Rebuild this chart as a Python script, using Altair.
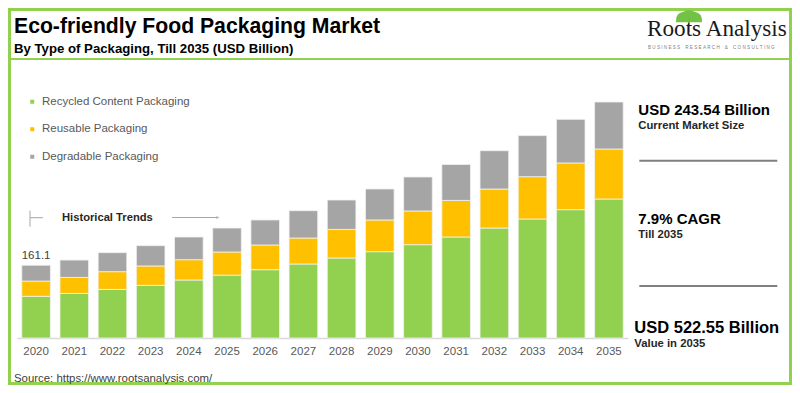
import altair as alt
import pandas as pd

years = [str(y) for y in range(2020, 2036)]
categories = ["Recycled Content Packaging", "Reusable Packaging", "Degradable Packaging"]
colors = ["#92d050", "#ffc000", "#a5a5a5"]
recycled = [92.3, 98.7, 107.6, 116.5, 128.4, 139.2, 151.2, 163.8, 177.1, 191.1, 206.6, 223.6, 243.5, 263.5, 284.1, 307.7]
reusable = [33.7, 35.4, 39.2, 43.0, 44.9, 51.2, 54.7, 57.6, 63.3, 70.2, 74.6, 81.0, 86.3, 93.7, 103.4, 110.7]
degradable = [35.1, 38.5, 42.1, 44.9, 50.3, 53.1, 55.4, 60.4, 65.1, 68.6, 75.3, 79.7, 84.8, 90.8, 96.5, 104.1]
first_label = "161.1"

rows = []
for i, y in enumerate(years):
    for k, (cat, vals) in enumerate(zip(categories, [recycled, reusable, degradable])):
        rows.append({"year": y, "type": cat, "value": vals[i], "order": k})
df = pd.DataFrame(rows)

FONT = "Liberation Sans"
W, H = 611, 248
Y_MAX = 549

xscale = alt.Scale(domain=years, paddingInner=0.25, paddingOuter=0.125)
yscale = alt.Scale(domain=[0, Y_MAX], nice=False, zero=True)

bars = alt.Chart(df).mark_bar(stroke="#f2f2f2", strokeWidth=0.8).encode(
    x=alt.X("year:N", scale=xscale, sort=years,
            axis=alt.Axis(title=None, ticks=False, labelAngle=0, labelFontSize=11.5,
                          labelColor="#595959", labelFont=FONT, labelPadding=7,
                          domainColor="#d9d9d9", domainWidth=1.5, grid=False)),
    y=alt.Y("sum(value):Q", scale=yscale, axis=None, stack="zero"),
    color=alt.Color("type:N", scale=alt.Scale(domain=categories, range=colors),
                    legend=alt.Legend(title=None, orient="none", legendX=9.5, legendY=6,
                                      symbolType="square", symbolSize=16, symbolStrokeWidth=0,
                                      labelFontSize=11.5, labelColor="#595959", labelFont=FONT,
                                      labelOffset=4, rowPadding=14.5, padding=0, labelLimit=300)),
    order=alt.Order("order:Q", sort="ascending"),
)

first_df = pd.DataFrame({"year": [years[0]], "total": [161.1], "label": [first_label]})
first_text = alt.Chart(first_df).mark_text(fontSize=11.5, font=FONT, color="#404040",
                                           baseline="middle", dy=-9).encode(
    x=alt.X("year:N", scale=xscale, sort=years),
    y=alt.Y("total:Q", scale=yscale),
    text="label:N",
)

def txt(text, x, y, size, bold=False, color="#000000", font=FONT, baseline="middle", align="left"):
    kw = dict(text=text, fontSize=size, font=font, color=color, baseline=baseline, align=align,
              fontWeight="bold" if bold else "normal")
    return alt.Chart(pd.DataFrame({"a": [0]})).mark_text(**kw).encode(x=alt.value(x), y=alt.value(y))

def rule(x1, x2, y1, y2, color, width):
    return alt.Chart(pd.DataFrame({"a": [0]})).mark_rule(color=color, strokeWidth=width).encode(
        x=alt.value(x1), x2=alt.value(x2), y=alt.value(y1), y2=alt.value(y2))

GREEN = "#92d050"
NB = "\u00a0"
tagline = (NB * 4).join(NB.join(w) for w in "BUSINESS RESEARCH & CONSULTING".split(" "))
layers = [
    bars,
    first_text,
    # frame
    alt.Chart(pd.DataFrame({"a": [0]})).mark_rect(fill=None, stroke=GREEN, strokeWidth=3).encode(
        x=alt.value(-7.5), x2=alt.value(773.5), y=alt.value(-80.5), y2=alt.value(293.5)),
    rule(-9, 775, -31, -31, GREEN, 2),
    txt("Eco-friendly Food Packaging Market", -3, -57.3, 21.2, bold=True, baseline="alphabetic"),
    txt("By Type of Packaging, Till 2035 (USD Billion)", -3, -37.5, 13.2, bold=True, baseline="alphabetic"),
    # logo
    rule(672, 672, -72, -58, "#9aa88a", 1.5),
    alt.Chart(pd.DataFrame({"a": [0]})).mark_point(
        shape="M -1 0.4 Q -1.05 -0.3 -0.45 -0.4 Q 0 -0.65 0.45 -0.4 Q 1.05 -0.3 1 0.4 Z",
        filled=True, fill="#6cbf3c", opacity=0.95, size=676, strokeWidth=0).encode(
        x=alt.value(672), y=alt.value(-73)),
    txt("Roots Analysis", 630, -54, 23.2, font="Liberation Serif", color="#1a1a1a", baseline="alphabetic"),
    txt(tagline, 631, -42.3, 4.6, color="#7f7f7f"),
    # historical trends
    rule(13, 13, 120.7, 136.7, "#a6a6a6", 1),
    rule(13, 26, 127.7, 127.7, "#a6a6a6", 1),
    txt("Historical Trends", 45, 127.7, 11.2, bold=True, color="#262626"),
    rule(155, 200, 127.5, 127.5, "#a6a6a6", 1),
    alt.Chart(pd.DataFrame({"a": [0]})).mark_point(shape="triangle-right", filled=True, size=14,
                                                   color="#a6a6a6").encode(x=alt.value(201), y=alt.value(127.5)),
    # source
    txt("Source: https://www.rootsanalysis.com/", -3, 288.8, 11.4, color="#404040"),
    # right panel
    txt("USD 243.54 Billion", 621.3, 20, 15, bold=True),
    txt("Current Market Size", 621.3, 35.5, 11.3, bold=True, color="#262626"),
    rule(622.3, 760.3, 70.7, 70.7, "#808080", 2),
    txt("7.9% CAGR", 621.3, 129, 15, bold=True),
    txt("Till 2035", 621.3, 144.5, 11.3, bold=True, color="#262626"),
    rule(622.3, 760.3, 196, 196, "#808080", 2),
    txt("USD 522.55 Billion", 617.3, 238.3, 16.5, bold=True),
    txt("Value in 2035", 617.3, 253.8, 11.3, bold=True, color="#262626"),
]

chart = alt.layer(*layers).properties(
    width=W, height=H,
    autosize=alt.AutoSizeParams(type="none"),
    padding={"left": 9, "top": 82, "right": 164, "bottom": 47},
    background="white",
).configure_view(stroke=None)

chart.save("out.html", embed_options={"renderer": "svg", "actions": False})
